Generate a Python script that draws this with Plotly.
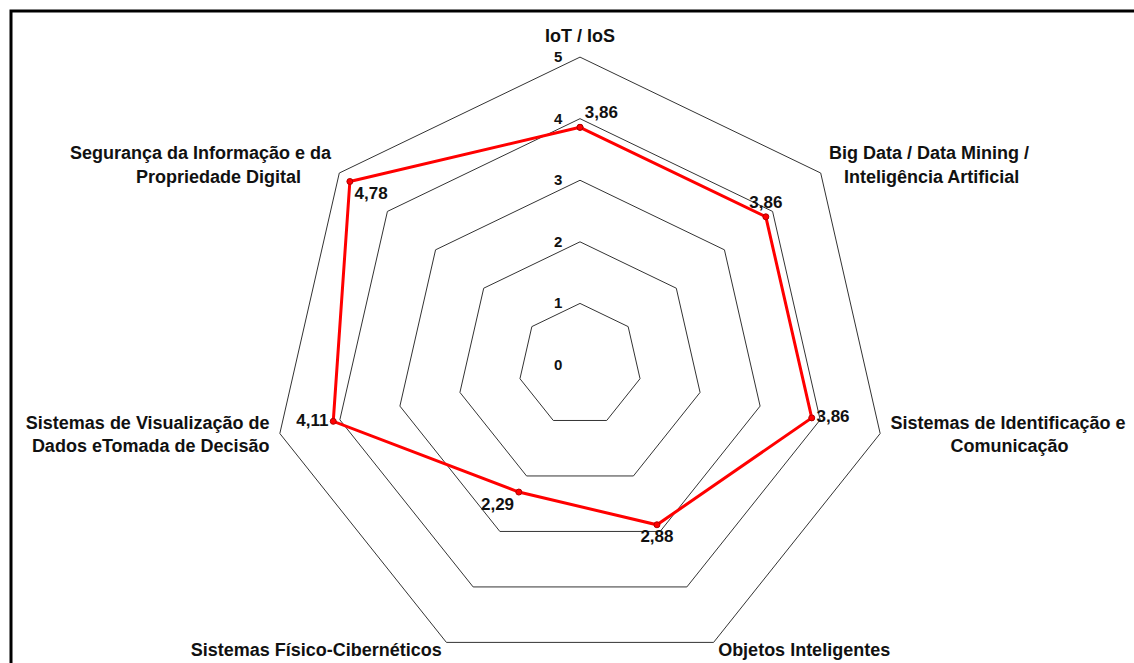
import plotly.graph_objects as go

NB = "\u00a0"

# Dimensions of the maturity assessment, clockwise from the top
categories = [
    "IoT / IoS",
    "Big Data / Data Mining / Inteligência Artificial",
    "Sistemas de Identificação e Comunicação",
    "Objetos Inteligentes",
    "Sistemas Físico-Cibernéticos",
    "Sistemas de Visualização de Dados eTomada de Decisão",
    "Segurança da Informação e da Propriedade Digital",
]
# the same names, broken over lines for the outer labels
category_labels = [
    "IoT / IoS",
    "Big Data / Data Mining /<br>" + NB * 3 + "Inteligência Artificial",
    "Sistemas de Identificação e<br>" + NB * 12 + "Comunicação",
    "Objetos Inteligentes",
    "Sistemas Físico-Cibernéticos",
    "Sistemas de Visualização de<br>Dados eTomada de Decisão",
    "Segurança da Informação e da<br>Propriedade Digital" + NB * 6,
]
scores = [3.86, 3.86, 3.86, 2.88, 2.29, 4.11, 4.78]
radial_ticks = [0, 1, 2, 3, 4, 5]

# placement of the value labels and the category names around the web
value_positions = ["top right", "top center", "middle right", "bottom center",
                   "bottom left", "middle left", "bottom right"]
name_positions = ["top center", "middle right", "middle right", "middle right",
                  "middle left", "middle left", "middle left"]
NAME_RADIUS = 5.17
R_MAX = 5.7  # room beyond the outer ring for the category names

W, H = 1134, 726
L, R, T, B = 229, 203, 14, 10

FONT = "Liberation Sans, Arial, sans-serif"
GRID = "#333333"


def fmt(v):
    return f"{v:.2f}".replace(".", ",")


# close the polygon by repeating the first point
r_closed = scores + scores[:1]
theta_closed = categories + categories[:1]
text_closed = [fmt(v) for v in scores] + [""]
pos_closed = value_positions + ["top right"]

fig = go.Figure()
fig.add_trace(go.Scatterpolar(
    r=r_closed,
    theta=theta_closed,
    mode="lines+markers+text",
    line=dict(color="#ff0000", width=3),
    marker=dict(color="#ff0000", size=6, line=dict(color="#b00000", width=1)),
    text=text_closed,
    textposition=pos_closed,
    textfont=dict(family=FONT, size=17, color="#111111", weight="bold"),
    cliponaxis=False,
    hoverinfo="skip",
    showlegend=False,
))

# category names just outside the outer ring
fig.add_trace(go.Scatterpolar(
    r=[NAME_RADIUS] * len(categories),
    theta=categories,
    mode="text",
    text=category_labels,
    textposition=name_positions,
    textfont=dict(family=FONT, size=18, color="#111111", weight="bold"),
    cliponaxis=False,
    hoverinfo="skip",
    showlegend=False,
))

fig.update_layout(
    width=W, height=H,
    margin=dict(l=L, r=R, t=T, b=B),
    paper_bgcolor="white",
    plot_bgcolor="white",
    polar=dict(
        bgcolor="white",
        gridshape="linear",
        angularaxis=dict(
            direction="clockwise",
            rotation=90,
            showgrid=False,
            showline=False,
            ticks="",
            showticklabels=False,
            categoryorder="array",
            categoryarray=categories,
        ),
        radialaxis=dict(
            range=[0, R_MAX],
            tickvals=radial_ticks,
            ticktext=[str(v) for v in radial_ticks],
            angle=90,
            side="counterclockwise",
            tickangle=90,
            showline=False,
            ticks="outside",
            ticklen=12,
            tickcolor="rgba(0,0,0,0)",
            gridcolor=GRID,
            gridwidth=1,
            tickfont=dict(family=FONT, size=15, color="#111111", weight="bold"),
        ),
    ),
)

# outer frame around the chart
pw = W - L - R
ph = H - T - B
fig.add_shape(
    type="rect", xref="paper", yref="paper",
    x0=(11 - L) / pw, x1=(1200 - L) / pw,
    y0=(H - B - 780) / ph, y1=(H - B - 11) / ph,
    line=dict(color="black", width=3),
    fillcolor="rgba(0,0,0,0)",
    layer="above",
)

fig.write_html(
    "out.html",
    post_script="document.documentElement.style.overflow='hidden';"
                "document.body.style.overflow='hidden';"
                "document.body.style.margin='0';",
)
